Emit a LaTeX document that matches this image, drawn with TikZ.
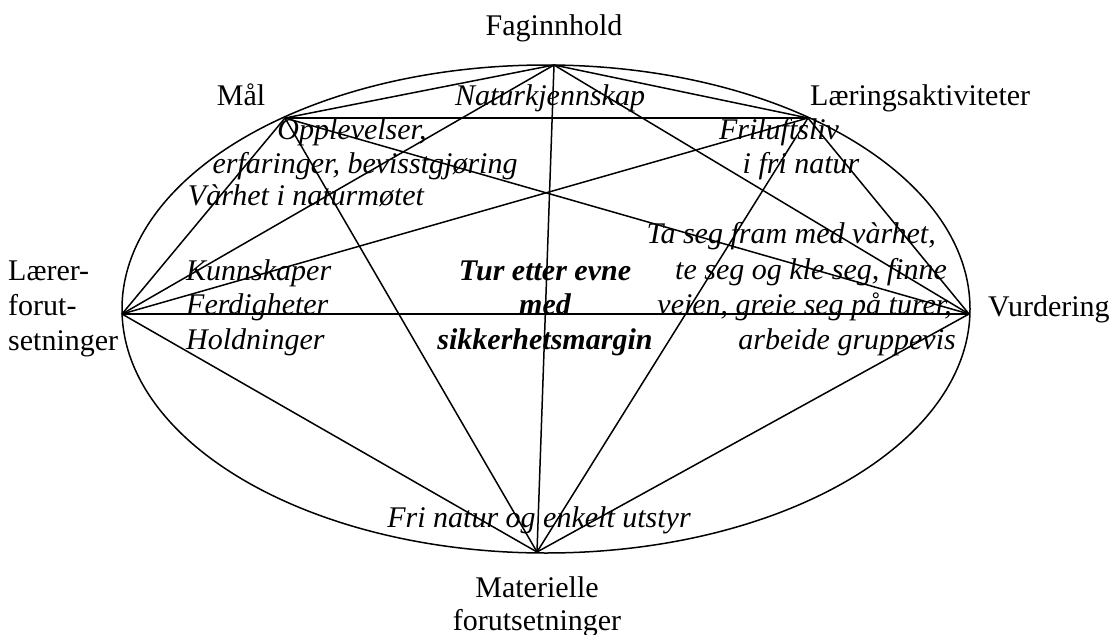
\documentclass[tikz,border=0pt]{standalone}
\usepackage{fontspec}
\setmainfont{Liberation Serif}
\begin{document}
\begin{tikzpicture}[x=1pt,y=-1pt,
  edge/.style={line width=1.5pt},
  lbl/.style={inner sep=0pt,font=\fontsize{30}{35}\selectfont},
  itl/.style={inner sep=0pt,font=\fontsize{30}{35}\selectfont\itshape},
  bit/.style={inner sep=0pt,font=\fontsize{30}{35}\selectfont\bfseries\itshape}]
\useasboundingbox (0,0) rectangle (1112,635);
% vertices
\coordinate (T) at (554,65);
\coordinate (M) at (285,118);
\coordinate (L) at (808,118);
\coordinate (W) at (122,314);
\coordinate (E) at (969,314);
\coordinate (B) at (537,552);
\coordinate (C) at (546,309);
% ellipse
\draw[edge] (C) ellipse [x radius=424, y radius=244];
% complete graph
\foreach \a/\b in {T/M,T/L,T/W,T/E,T/B,M/L,M/W,M/E,M/B,L/W,L/E,L/B,W/E,W/B,E/B}
  \draw[edge] (\a) -- (\b);
% outer labels
\node[lbl,anchor=base] (fag) at (554,35) {Faginnhold};
\node[lbl,anchor=base] (mal) at (241,105) {Mål};
\node[lbl,anchor=base west] (lar) at (810,105) {Læringsaktiviteter};
\node[lbl,anchor=base west] (lf1) at (8,280) {Lærer-};
\node[lbl,anchor=base west] (lf2) at (8,315) {forut-};
\node[lbl,anchor=base west] (lf3) at (8,350) {setninger};
\node[lbl,anchor=base west] (vur) at (988,316) {Vurdering};
\node[lbl,anchor=base] (mat1) at (537,597) {Materielle};
\node[lbl,anchor=base] (mat2) at (537,630) {forutsetninger};
% inner labels
\node[itl,anchor=base] (nat) at (550,105) {Naturkjennskap};
\node[itl,anchor=base] (op1) at (352,139) {Opplevelser,};
\node[itl,anchor=base] (op2) at (365,173) {erfaringer, bevisstgjøring};
\node[itl,anchor=base] (op3) at (306,205) {Vàrhet i naturmøtet};
\node[itl,anchor=base] (fr1) at (779,139) {Friluftsliv};
\node[itl,anchor=base] (fr2) at (801,173) {i fri natur};
\node[itl,anchor=base west] (ku1) at (186,280) {Kunnskaper};
\node[itl,anchor=base west] (ku2) at (186,314) {Ferdigheter};
\node[itl,anchor=base west] (ku3) at (186,349) {Holdninger};
\node[bit,anchor=base] (tu1) at (545,280) {Tur etter evne};
\node[bit,anchor=base] (tu2) at (545,314) {med};
\node[bit,anchor=base] (tu3) at (545,349) {sikkerhetsmargin};
\node[itl,anchor=base east] (ta1) at (936,243) {Ta seg fram med vàrhet,};
\node[itl,anchor=base east] (ta2) at (947,279) {te seg og kle seg, finne};
\node[itl,anchor=base east] (ta3) at (952,314) {veien, greie seg på turer,};
\node[itl,anchor=base east] (ta4) at (956,349) {arbeide gruppevis};
\node[itl,anchor=base] (fri) at (539,527) {Fri natur og enkelt utstyr};
\end{tikzpicture}
\end{document}
